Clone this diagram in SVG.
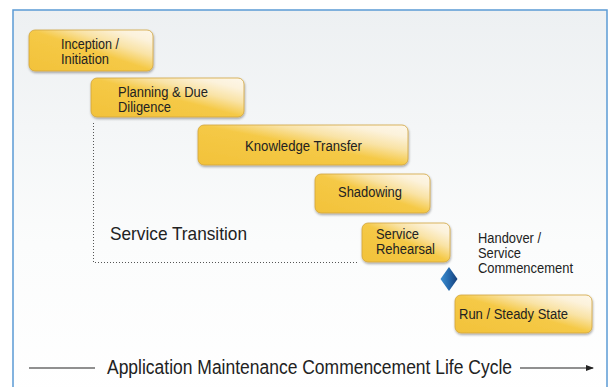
<svg xmlns="http://www.w3.org/2000/svg" width="613" height="387" viewBox="0 0 613 387">
  <defs>
    <linearGradient id="bg" x1="0" y1="0" x2="0" y2="1">
      <stop offset="0" stop-color="#edf0f2"/>
      <stop offset="0.6" stop-color="#fbfcfc"/>
      <stop offset="1" stop-color="#ffffff"/>
    </linearGradient>
    <linearGradient id="box" x1="0" y1="1" x2="1" y2="0">
      <stop offset="0" stop-color="#f2c23a"/>
      <stop offset="0.5" stop-color="#f5c946"/>
      <stop offset="0.68" stop-color="#f9e3a6"/>
      <stop offset="0.85" stop-color="#fcf2db"/>
      <stop offset="1" stop-color="#fdf7ea"/>
    </linearGradient>
    <linearGradient id="dia" x1="0" y1="0" x2="1" y2="0">
      <stop offset="0" stop-color="#3d8fd0"/>
      <stop offset="0.5" stop-color="#2569ad"/>
      <stop offset="1" stop-color="#173f78"/>
    </linearGradient>
    <filter id="sh" x="-10%" y="-20%" width="120%" height="150%">
      <feDropShadow dx="0.5" dy="1.5" stdDeviation="1.2" flood-color="#000" flood-opacity="0.35"/>
    </filter>
    <marker id="arr" markerWidth="8" markerHeight="6" refX="7" refY="3" orient="auto" markerUnits="userSpaceOnUse">
      <path d="M0,0 L8,3 L0,6 z" fill="#222"/>
    </marker>
  </defs>
  <style>
    .b { fill: url(#box); stroke: #d2a53c; stroke-width: 0.8; filter: url(#sh); }
    .t { font-family: "Liberation Sans", Arial, sans-serif; font-size: 14px; fill: #222; }
    .big { font-family: "Liberation Sans", Arial, sans-serif; fill: #222; }
  </style>

  <rect x="0" y="0" width="613" height="387" fill="#ffffff"/>
  <rect x="13" y="10" width="594" height="390" fill="url(#bg)" stroke="#5b9bd5" stroke-width="1.5"/>

  <g id="connectors">
    <path d="M93.5,123 V262.5 H357" fill="none" stroke="#555" stroke-width="1" stroke-dasharray="1 2"/>
    <line x1="29" y1="368" x2="95" y2="368" stroke="#222" stroke-width="1.2"/>
    <line x1="520" y1="368" x2="593" y2="368" stroke="#222" stroke-width="1.2" marker-end="url(#arr)"/>
  </g>

  <g id="inception">
    <rect class="b" x="29" y="30" width="124" height="41" rx="6"/>
    <text class="t" x="61" y="49" textLength="58" lengthAdjust="spacingAndGlyphs">Inception /</text>
    <text class="t" x="61" y="64" textLength="48" lengthAdjust="spacingAndGlyphs">Initiation</text>
  </g>

  <g id="planning">
    <rect class="b" x="91" y="78" width="153" height="39" rx="6"/>
    <text class="t" x="118" y="97" textLength="90" lengthAdjust="spacingAndGlyphs">Planning &amp; Due</text>
    <text class="t" x="118" y="112" textLength="53" lengthAdjust="spacingAndGlyphs">Diligence</text>
  </g>

  <g id="knowledge-transfer">
    <rect class="b" x="198" y="125" width="210" height="40" rx="6"/>
    <text class="t" x="245" y="151" textLength="117" lengthAdjust="spacingAndGlyphs">Knowledge Transfer</text>
  </g>

  <g id="shadowing">
    <rect class="b" x="315" y="174" width="115" height="39" rx="6"/>
    <text class="t" x="338" y="197" textLength="64" lengthAdjust="spacingAndGlyphs">Shadowing</text>
  </g>

  <g id="service-rehearsal">
    <rect class="b" x="362" y="223" width="88" height="39" rx="6"/>
    <text class="t" x="376" y="239" textLength="43" lengthAdjust="spacingAndGlyphs">Service</text>
    <text class="t" x="376" y="254" textLength="59" lengthAdjust="spacingAndGlyphs">Rehearsal</text>
  </g>

  <g id="run-steady-state">
    <rect class="b" x="455" y="295" width="137" height="38" rx="6"/>
    <text class="t" x="459" y="319" textLength="109" lengthAdjust="spacingAndGlyphs">Run / Steady State</text>
  </g>

  <g id="handover">
    <polygon points="449,267 457.5,279 449,291 440.5,279" fill="url(#dia)"/>
    <text class="t" x="478" y="243" textLength="63" lengthAdjust="spacingAndGlyphs">Handover /</text>
    <text class="t" x="478" y="258" textLength="43" lengthAdjust="spacingAndGlyphs">Service</text>
    <text class="t" x="478" y="273" textLength="95" lengthAdjust="spacingAndGlyphs">Commencement</text>
  </g>

  <g id="service-transition">
    <text class="big" x="110" y="240" font-size="18.5" textLength="137" lengthAdjust="spacingAndGlyphs">Service Transition</text>
  </g>

  <g id="lifecycle-label">
    <text class="big" x="107" y="374" font-size="20" textLength="405" lengthAdjust="spacingAndGlyphs">Application Maintenance Commencement Life Cycle</text>
  </g>
</svg>
